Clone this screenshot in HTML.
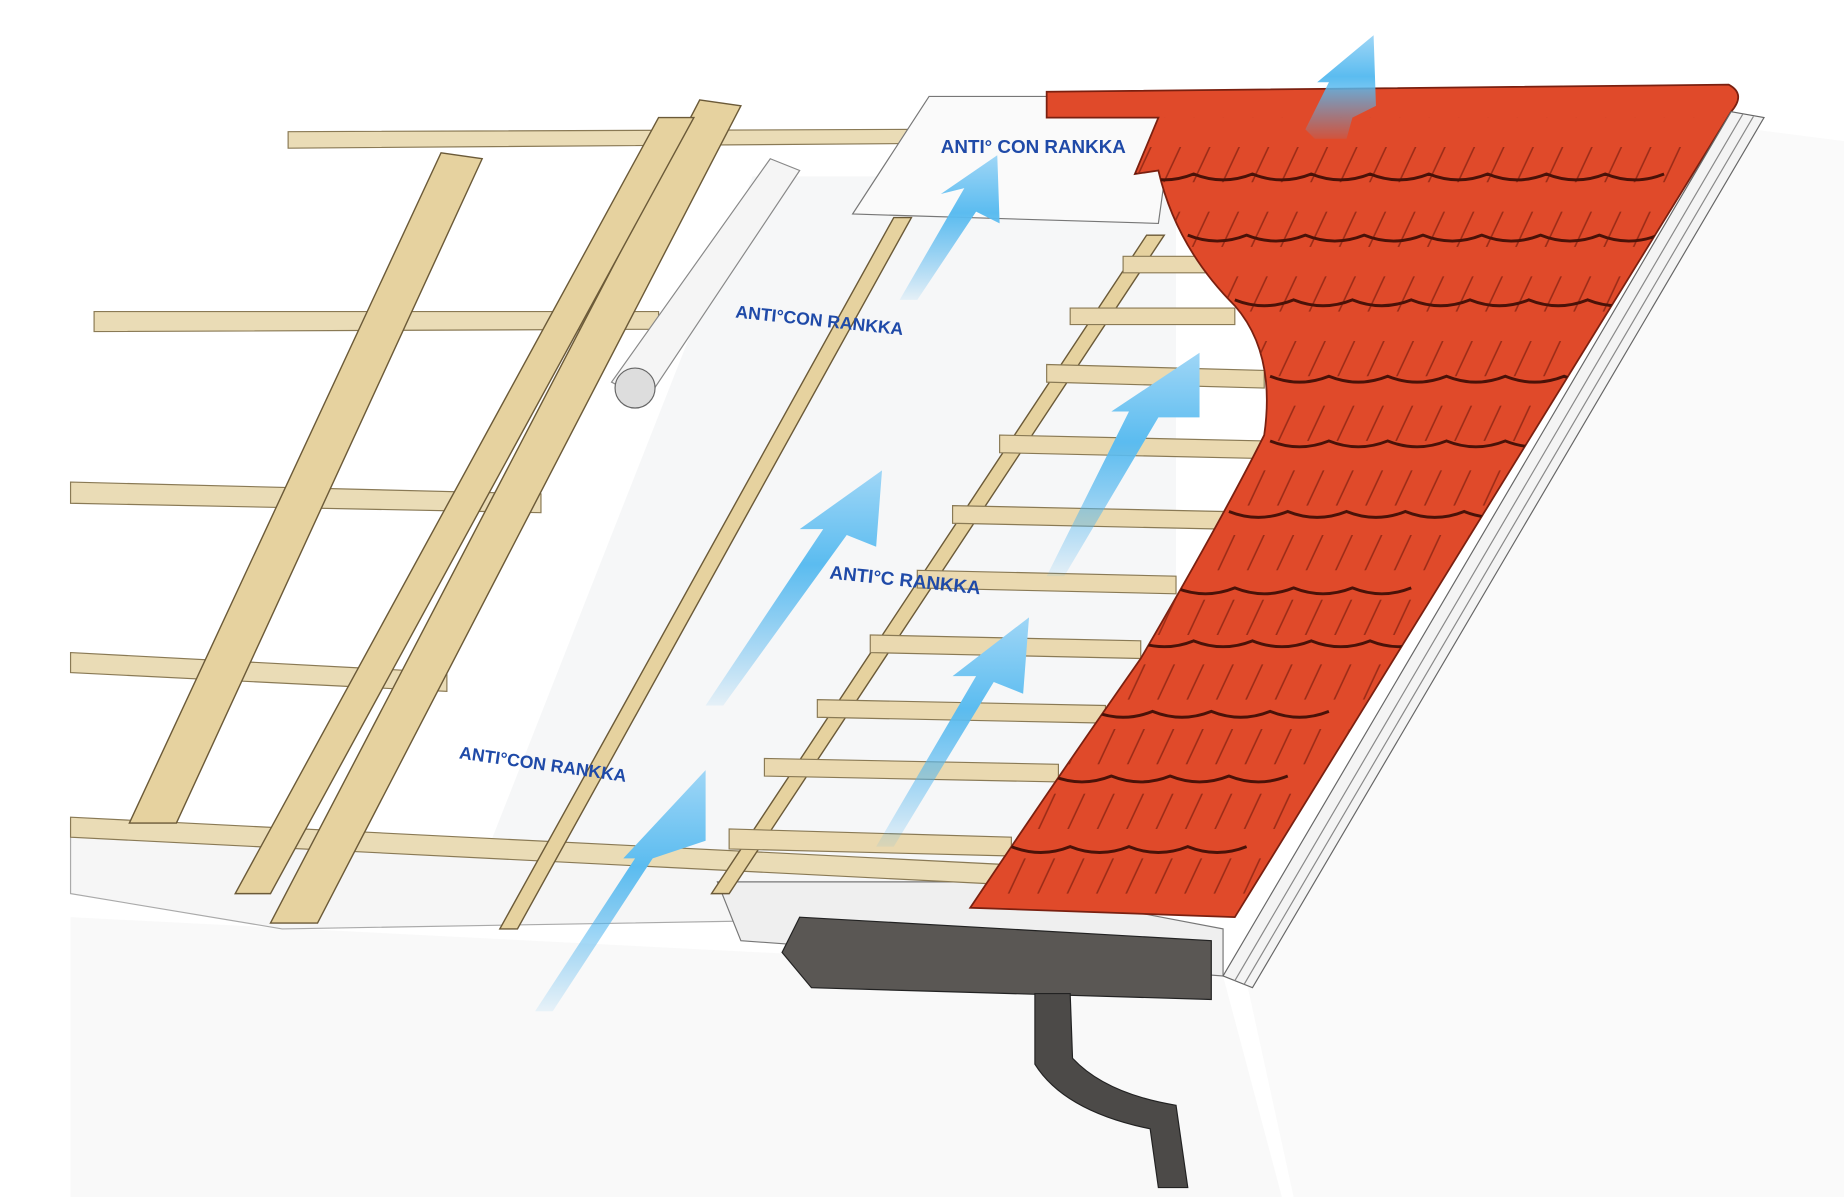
<!DOCTYPE html>
<html><head><meta charset="utf-8"><style>
html,body{margin:0;padding:0;background:#fff;}
svg{display:block;}
text{font-family:"Liberation Sans",sans-serif;font-weight:bold;fill:#1f4aa8;}
</style></head><body>
<svg width="1844" height="1197" viewBox="0 0 1568 1018" preserveAspectRatio="none" xmlns="http://www.w3.org/2000/svg">
<defs>
<linearGradient id="bl" x1="0" y1="1" x2="0" y2="0"><stop offset="0" stop-color="#4ab0ee" stop-opacity="0.1"/><stop offset="0.6" stop-color="#5bbcf0"/><stop offset="1" stop-color="#9fd6f6"/></linearGradient>
<pattern id="tl" width="25" height="55" patternUnits="userSpaceOnUse" patternTransform="skewX(-25)">
<line x1="12" y1="15" x2="12" y2="45" stroke="#8a2412" stroke-width="1.5"/>
</pattern>
<clipPath id="tc"><path d="M890,78 L1470,72 Q1485,80 1472,95 L1050,780 L825,772 Q900,660 970,560 Q1040,440 1075,370 Q1085,300 1050,260 Q1000,210 985,145 L965,148 L985,100 L890,100 Z"/></clipPath>
</defs>
<rect width="1568" height="1018" fill="#fff"/>
<polygon points="60,780 1040,830 1090,1018 60,1018" fill="#f7f7f7" opacity="0.8"/>
<polygon points="1060,835 1490,110 1568,120 1568,1018 1100,1018" fill="#fafafa"/>
<polygon points="640,150 1000,150 1000,760 400,760" fill="#f6f7f8"/>
<polygon points="60,700 830,740 830,780 240,790 60,760" fill="#f6f6f6" stroke="#aaa" stroke-width="1"/>
<polygon points="610,750 830,750 1040,790 1040,830 630,800" fill="#efefef" stroke="#777"/>
<g fill="#eadcb6" stroke="#8a7a55" stroke-width="1">
<polygon points="245,112 780,110 780,122 245,126"/>
<polygon points="80,265 560,265 560,280 80,282"/>
<polygon points="60,410 460,420 460,436 60,428"/>
<polygon points="60,555 380,572 380,588 60,572"/>
<polygon points="60,695 850,735 850,752 60,712"/>
</g>
<g fill="#e6d29f" stroke="#6b5a38" stroke-width="1.2">
<polygon points="375,130 410,135 150,700 110,700"/>
<polygon points="595,85 630,90 270,785 230,785"/>
<polygon points="560,100 590,100 230,760 200,760"/>
<polygon points="760,185 775,185 440,790 425,790"/>
<polygon points="975,200 990,200 620,760 605,760"/>
</g>
<g fill="#ead9b0" stroke="#8a7a55" stroke-width="1">
<polygon points="885,150 990,150 990,162 885,162"/>
<polygon points="955,218 1030,218 1030,232 955,232"/>
<polygon points="910,262 1050,262 1050,276 910,276"/>
<polygon points="890,310 1075,315 1075,330 890,325"/>
<polygon points="850,370 1075,375 1075,390 850,385"/>
<polygon points="810,430 1040,435 1040,450 810,445"/>
<polygon points="780,485 1000,490 1000,505 780,500"/>
<polygon points="740,540 970,545 970,560 740,555"/>
<polygon points="695,595 940,600 940,615 695,610"/>
<polygon points="650,645 900,650 900,665 650,660"/>
<polygon points="620,705 860,712 860,728 620,722"/>
</g>
<polygon points="655,135 680,145 550,340 520,325" fill="#f5f5f5" stroke="#888"/>
<circle cx="540" cy="330" r="17" fill="#ddd" stroke="#666"/>
<polygon points="790,82 1000,82 985,190 725,182" fill="#fafafa" stroke="#777"/>
<text x="800" y="130" font-size="16">ANTI° CON RANKKA</text>
<text x="625" y="270" font-size="15" transform="rotate(6 625 270)">ANTI°CON RANKKA</text>
<text x="705" y="492" font-size="16" transform="rotate(6 705 492)">ANTI°C RANKKA</text>
<text x="390" y="645" font-size="15" transform="rotate(8 390 645)">ANTI°CON RANKKA</text>
<path d="M890,78 L1470,72 Q1485,80 1472,95 L1050,780 L825,772 Q900,660 970,560 Q1040,440 1075,370 Q1085,300 1050,260 Q1000,210 985,145 L965,148 L985,100 L890,100 Z" fill="#e04a2a" stroke="#7a2010" stroke-width="1.5"/>
<rect x="820" y="100" width="660" height="690" fill="url(#tl)" clip-path="url(#tc)" opacity="0.8"/>
<g fill="none" stroke="#4a1208" stroke-width="2.5" clip-path="url(#tc)">
<path d="M965,148 q25,10 50,0 q25,10 50,0 q25,10 50,0 q25,10 50,0 q25,10 50,0 q25,10 50,0 q25,10 50,0 q25,10 50,0 q25,10 50,0"/>
<path d="M1010,200 q25,10 50,0 q25,10 50,0 q25,10 50,0 q25,10 50,0 q25,10 50,0 q25,10 50,0 q25,10 50,0 q25,10 50,0"/>
<path d="M1050,255 q25,10 50,0 q25,10 50,0 q25,10 50,0 q25,10 50,0 q25,10 50,0 q25,10 50,0 q25,10 50,0"/>
<path d="M1080,320 q25,10 50,0 q25,10 50,0 q25,10 50,0 q25,10 50,0 q25,10 50,0 q25,10 50,0"/>
<path d="M1080,375 q25,10 50,0 q25,10 50,0 q25,10 50,0 q25,10 50,0 q25,10 50,0"/>
<path d="M1045,435 q25,10 50,0 q25,10 50,0 q25,10 50,0 q25,10 50,0 q25,10 50,0"/>
<path d="M1000,500 q25,10 50,0 q25,10 50,0 q25,10 50,0 q25,10 50,0"/>
<path d="M965,545 q25,10 50,0 q25,10 50,0 q25,10 50,0 q25,10 50,0 q25,10 50,0"/>
<path d="M930,605 q25,10 50,0 q25,10 50,0 q25,10 50,0 q25,10 50,0"/>
<path d="M895,660 q25,10 50,0 q25,10 50,0 q25,10 50,0 q25,10 50,0"/>
<path d="M860,720 q25,10 50,0 q25,10 50,0 q25,10 50,0 q25,10 50,0"/>
</g>
<polygon points="1472,95 1500,100 1065,840 1040,830" fill="#f4f4f4" stroke="#666"/>
<line x1="1482" y1="97" x2="1050" y2="834" stroke="#888"/>
<line x1="1491" y1="99" x2="1058" y2="837" stroke="#888"/>
<polygon points="680,780 1030,800 1030,850 690,840 665,810" fill="#5a5754" stroke="#222"/>
<path d="M880,845 L910,845 L912,900 Q940,930 1000,940 L1010,1010 L985,1010 L978,960 Q905,945 880,905 Z" fill="#4c4a48" stroke="#222"/>
<g fill="url(#bl)">
<polygon points="455,860 540,730 530,730 600,655 600,715 555,730 470,860"/>
<polygon points="600,600 700,450 680,450 750,400 745,465 720,455 615,600"/>
<polygon points="745,720 830,575 810,575 875,525 870,590 845,580 760,720"/>
<polygon points="890,490 960,350 945,350 1020,300 1020,355 985,355 905,490"/>
<polygon points="765,255 820,160 800,165 848,132 850,190 830,180 780,255"/>
<polygon points="1110,110 1130,70 1120,70 1168,30 1170,90 1150,100 1145,118 1118,118"/>
</g>
</svg>
</body></html>
